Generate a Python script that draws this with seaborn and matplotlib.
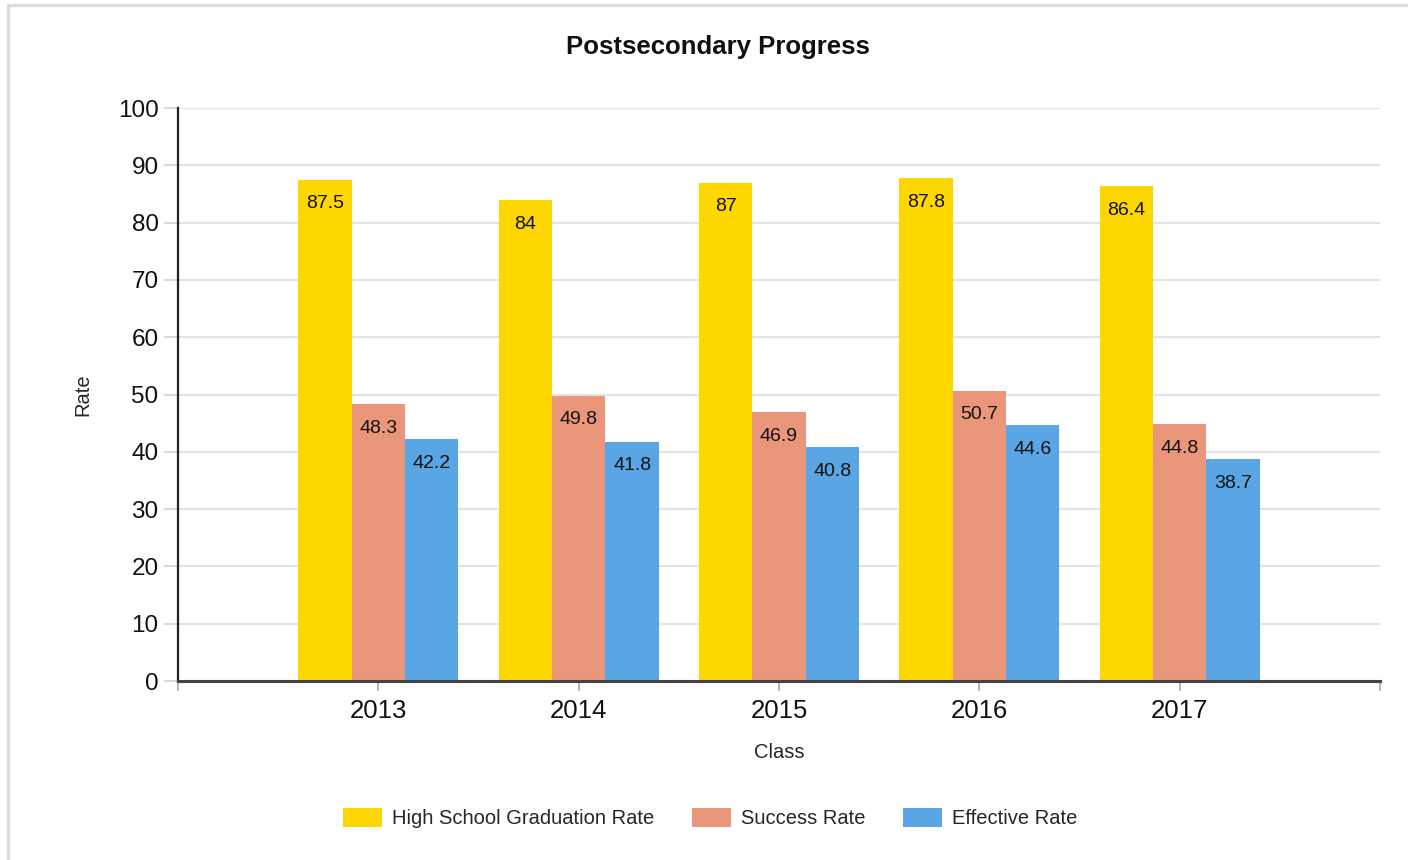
import matplotlib
matplotlib.use('Agg')
import matplotlib.pyplot as plt
from matplotlib.lines import Line2D
import pandas as pd
import seaborn as sns

# Data
classes = ['2013', '2014', '2015', '2016', '2017']
series = ['High School Graduation Rate', 'Success Rate', 'Effective Rate']
grad_rate = [87.5, 84, 87, 87.8, 86.4]
success_rate = [48.3, 49.8, 46.9, 50.7, 44.8]
effective_rate = [42.2, 41.8, 40.8, 44.6, 38.7]
y_ticks = [0, 10, 20, 30, 40, 50, 60, 70, 80, 90, 100]

colours = {
    'High School Graduation Rate': '#FFD700',
    'Success Rate': '#E9967A',
    'Effective Rate': '#5AA5E3',
}

df = pd.DataFrame({
    'Class': classes * 3,
    'Rate': grad_rate + success_rate + effective_rate,
    'Series': [s for s in series for _ in classes],
})

sns.set_style('white')
plt.rcParams['font.family'] = ['Liberation Sans', 'DejaVu Sans']

fig = plt.figure(figsize=(14.08, 8.6), dpi=100)
ax = fig.add_axes([0.1264, 0.2081, 0.8537, 0.6663])

sns.barplot(
    data=df, x='Class', y='Rate', hue='Series', palette=colours,
    saturation=1, width=0.8, ax=ax, zorder=2, legend=True, linewidth=0,
)

# Value labels just inside the top of each bar
for container in ax.containers:
    for bar in container:
        h = bar.get_height()
        ax.annotate(
            f'{h:g}', xy=(bar.get_x() + bar.get_width() / 2, h),
            xytext=(0, -17.5), textcoords='offset points',
            ha='center', va='center', fontsize=14, color='#111111',
        )

ax.set_xlim(-1, 5)
ax.set_ylim(0, 100)
ax.set_yticks(y_ticks)
ax.set_xticks([-1, 0, 1, 2, 3, 4, 5])
ax.set_xticklabels([''] + classes + [''])
ax.tick_params(axis='y', left=True, labelsize=17.5, length=10, color='#d9d9d9',
               width=1.5, pad=4, labelcolor='#111111')
ax.tick_params(axis='x', bottom=True, labelsize=18.5, length=7, color='#aaaaaa',
               width=1.2, pad=6, labelcolor='#111111')

ax.grid(axis='y', color='#e3e3e3', lw=1.5, zorder=0)
ax.set_axisbelow(True)

for side in ('top', 'right'):
    ax.spines[side].set_visible(False)
ax.spines['left'].set_color('#222222')
ax.spines['left'].set_linewidth(1.6)
ax.spines['bottom'].set_color('#444444')
ax.spines['bottom'].set_linewidth(2.2)

ax.set_ylabel('Rate', fontsize=14.5, labelpad=18)
ax.set_xlabel('Class', fontsize=14.5, labelpad=14)

fig.text(718 / 1408, 1 - 47 / 860, 'Postsecondary Progress', ha='center', va='center',
         fontsize=18.5, fontweight='bold', color='#111111')

ax.legend(
    loc='center', bbox_to_anchor=(710 / 1408, 1 - 818 / 860), bbox_transform=fig.transFigure,
    ncol=3, frameon=False, fontsize=14.5, handlelength=1.95, handleheight=1.1,
    columnspacing=1.85, handletextpad=0.5, title=None,
)

# Light frame around the chart
fig.add_artist(Line2D([8 / 1408, 8 / 1408], [0, 1 - 5 / 860], color='#dddddd', lw=2.5,
                      transform=fig.transFigure))
fig.add_artist(Line2D([8 / 1408, 1], [1 - 5 / 860, 1 - 5 / 860], color='#dddddd', lw=2.5,
                      transform=fig.transFigure))

fig.savefig('out.png', dpi=100)
